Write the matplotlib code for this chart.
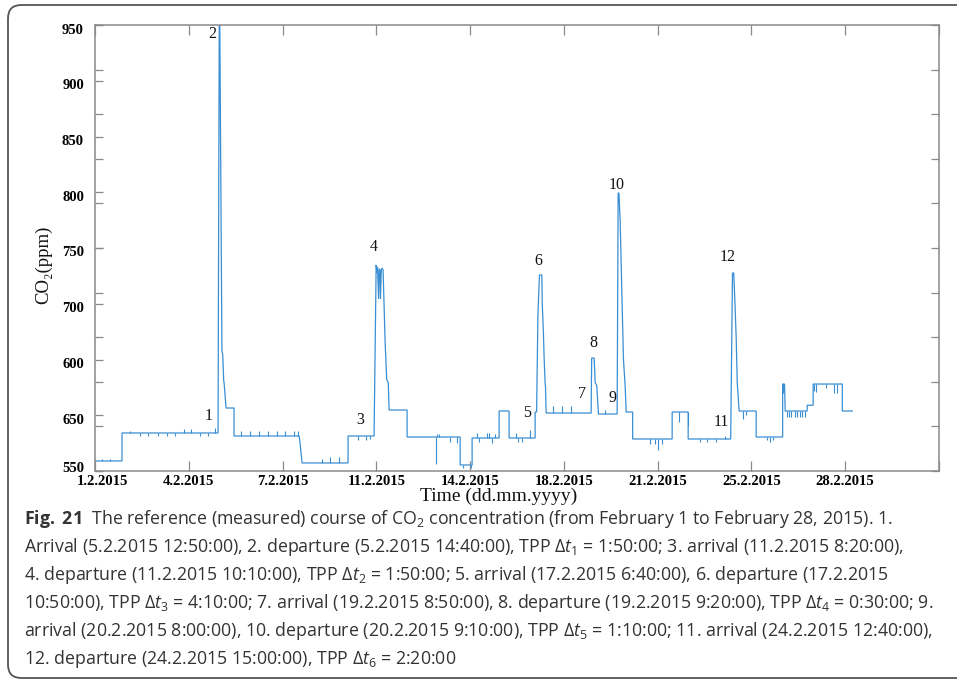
import numpy as np
import matplotlib
matplotlib.use("Agg")
import matplotlib.pyplot as plt
from matplotlib.patches import FancyBboxPatch
from matplotlib.transforms import ScaledTranslation

# ---------------- data (time in days since 1.2.2015 00:00, CO2 in ppm on the plotted scale) -------------
t_days = [0.0, 1.0, 1.0, 4.556, 4.60, 4.62, 4.70, 4.73, 4.765, 4.78, 4.852, 5.148, 5.148,
          7.556, 7.58, 7.667, 9.37, 9.37, 10.333, 10.41, 10.44, 10.46, 10.50, 10.52, 10.55,
          10.57, 10.60, 10.63, 10.667, 10.74, 10.80, 10.86, 10.89, 11.556, 11.556, 13.52,
          13.52, 13.963, 13.963, 14.963, 14.963, 15.333, 15.333, 16.296, 16.296, 16.35,
          16.40, 16.456, 16.544, 16.56, 16.60, 16.63, 16.667, 16.68, 16.704, 18.37, 18.39,
          18.48, 18.50, 18.52, 18.55, 18.58, 18.64, 19.333, 19.37, 19.40, 19.444, 19.507,
          19.567, 19.63, 19.667, 19.907, 19.907, 21.37, 21.37, 21.963, 21.963, 23.537,
          23.604, 23.65, 23.70, 23.74, 23.78, 23.815, 23.85, 24.48, 24.48, 25.46, 25.46,
          25.53, 25.556, 26.37, 26.37, 26.59, 26.59, 27.67, 27.67, 28.04]
co2_ppm = [559.0, 559.0, 584.1, 584.1, 955.0, 955.0, 658.0, 654.0, 631.0, 629.0, 606.5, 606.5, 581.4,
           581.4, 578.0, 557.2, 557.2, 581.4, 581.4, 734.8, 728.0, 733.0, 704.3, 731.0, 731.0,
           704.3, 730.0, 732.0, 730.0, 667.0, 632.0, 629.0, 604.7, 604.7, 580.5, 580.5,
           555.4, 555.4, 579.6, 579.6, 603.8, 603.8, 579.6, 579.6, 602.9, 602.9,
           690.0, 725.8, 725.8, 700.0, 676.0, 651.0, 628.0, 626.0, 602.0, 602.0, 651.3,
           651.3, 641.0, 629.0, 628.0, 626.0, 601.1, 601.1, 799.3, 799.3, 775.1, 710.0,
           650.0, 626.0, 602.9, 602.9, 578.7, 578.7, 602.9, 602.9, 578.7, 578.7,
           727.6, 727.6, 697.0, 670.0, 629.0, 617.0, 603.8, 603.8, 580.5, 580.5, 628.0,
           628.0, 603.8, 603.8, 609.0, 609.0, 628.0, 628.0, 603.8, 603.8]

# short transient spikes on the plateaus (time, plateau level, spike value)
spike_days = [0.26, 0.55, 1.30, 1.65, 1.98, 2.32, 2.65, 2.98, 3.30, 3.55, 3.88, 4.20, 4.44,
              5.41, 5.74, 6.07, 6.41, 6.73, 7.04, 7.37, 7.53, 8.41, 8.70, 9.04,
              9.75, 10.05, 10.20, 12.63, 12.68, 12.74, 13.14, 13.42, 13.62, 13.92,
              14.14, 14.23, 14.51, 14.57, 14.69, 14.81, 15.58, 15.68, 15.80, 16.11,
              16.96, 17.30, 17.63, 18.89, 20.556, 20.74, 20.86, 20.99, 21.63, 21.95,
              22.41, 22.67, 23.00, 23.33, 24.01, 24.10, 24.90, 25.00, 25.10, 25.49,
              25.62, 25.70, 25.78, 25.90, 26.00, 26.10, 26.18, 26.28,
              26.63, 26.70, 27.05, 27.38, 27.46]
spike_base = [559.0, 559.0] + [584.1] * 11 + [581.4] * 8 + [557.2] * 3 + [581.4] * 3 + \
             [580.5] * 5 + [555.4] * 2 + [579.6] * 6 + [579.6] * 4 + [602.0] * 3 + [601.1] + \
             [578.7] * 4 + [602.9] * 2 + [578.7] * 4 + [603.8] * 2 + [580.5] * 3 + [628.0] + \
             [603.8] * 8 + [628.0] * 5
spike_peak = [561, 561, 585.5, 581, 581, 581, 581, 581, 588, 588, 581, 581, 589,
              585.5, 585.5, 585.5, 585.5, 585.5, 585.5, 585.5, 585.5, 561, 563, 563,
              578, 578, 579, 556, 583.5, 583.5, 576, 575, 553, 553,
              584, 576, 584, 584, 575, 583, 584, 576, 576, 587,
              608, 608, 608, 605, 574, 574, 569, 574, 594, 590,
              576, 576, 576, 581, 597, 600, 578, 576, 578, 620,
              598.5, 598.5, 598.5, 598.5, 598.5, 598.5, 598.5, 598.5,
              622, 621, 624, 620, 620]

event_labels = ["1", "2", "3", "4", "5", "6", "7", "8", "9", "10", "11", "12"]
event_x = [4.22, 4.33, 9.81, 10.33, 16.0, 16.41, 18.02, 18.44, 19.15, 19.33, 23.19, 23.44]
event_y = [599.3, 942.0, 595.7, 750.9, 602.0, 738.3, 619.0, 664.8, 615.5, 806.5, 594.0, 742.0]

xtick_labels = ["1.2.2015", "4.2.2015", "7.2.2015", "11.2.2015", "14.2.2015",
                "18.2.2015", "21.2.2015", "25.2.2015", "28.2.2015", ""]
ytick_values = [550, 600, 650, 700, 750, 800, 850, 900, 950]
ytick_labels = ["550", "650", "600", "700", "750", "800", "850", "900", "950"]

caption_lines = [
    r"$\mathbf{Fig.}$ $\mathbf{21}$  The reference (measured) course of CO$_2$ concentration (from February 1 to February 28, 2015). 1.",
    r"Arrival (5.2.2015 12:50:00), 2. departure (5.2.2015 14:40:00), TPP $\Delta t_1$ = 1:50:00; 3. arrival (11.2.2015 8:20:00),",
    r"4. departure (11.2.2015 10:10:00), TPP $\Delta t_2$ = 1:50:00; 5. arrival (17.2.2015 6:40:00), 6. departure (17.2.2015",
    r"10:50:00), TPP $\Delta t_3$ = 4:10:00; 7. arrival (19.2.2015 8:50:00), 8. departure (19.2.2015 9:20:00), TPP $\Delta t_4$ = 0:30:00; 9.",
    r"arrival (20.2.2015 8:00:00), 10. departure (20.2.2015 9:10:00), TPP $\Delta t_5$ = 1:10:00; 11. arrival (24.2.2015 12:40:00),",
    r"12. departure (24.2.2015 15:00:00), TPP $\Delta t_6$ = 2:20:00",
]

# ---------------- styling ----------------
plt.rcParams["mathtext.fontset"] = "custom"
plt.rcParams["mathtext.rm"] = "Open Sans"
plt.rcParams["mathtext.it"] = "Open Sans:italic"
plt.rcParams["mathtext.bf"] = "Open Sans:bold"

W, H = 957, 680
fig = plt.figure(figsize=(W / 100, H / 100), dpi=100)
fig.patch.set_facecolor("white")

L, R, T, B = 95, 939, 25, 471
ax = fig.add_axes([L / W, 1 - B / H, (R - L) / W, (B - T) / H])

line_color = "#3a8fd4"
ax.plot(t_days, co2_ppm, color=line_color, lw=0.9, solid_joinstyle="miter", clip_on=True)
ax.vlines(spike_days, spike_base, spike_peak, color=line_color, lw=0.8)

tick_step = 500 * 10 / (60 * 24)  # 500 ten-minute samples
ax.set_xlim(0, 9 * tick_step)
ax.set_ylim(550, 950)

spine_c = "#8a8a8a"
for s in ax.spines.values():
    s.set_color(spine_c)
    s.set_linewidth(1.1)

ax.set_xticks([i * tick_step for i in range(10)])
ax.set_xticklabels(xtick_labels)
ax.set_yticks(ytick_values)
ax.set_yticklabels(ytick_labels)
ax.set_yticks(np.linspace(550, 950, 11), minor=True)
ax.yaxis.remove_overlapping_locs = False

ax.tick_params(axis="x", which="major", direction="in", top=True, bottom=True, length=7,
               width=0.9, color=spine_c, pad=3, labelsize=10.5)
ax.tick_params(axis="y", which="major", direction="in", left=True, right=False, length=6,
               width=0.9, color=spine_c, pad=8, labelsize=10.5)
ax.tick_params(axis="y", which="minor", direction="in", left=True, right=True, length=6,
               width=0.9, color=spine_c)
ax.tick_params(axis="x", which="minor", bottom=False, top=False)
for lab in ax.get_xticklabels() + ax.get_yticklabels():
    lab.set_fontfamily("Liberation Serif")
    lab.set_fontweight("bold")

# small per-label offsets as in the reference
ylabs = ax.get_yticklabels()
for i, lab in enumerate(ylabs):
    dy = 4 / 100 if i == 0 else -3.5 / 100
    lab.set_transform(lab.get_transform() + ScaledTranslation(0, dy, fig.dpi_scale_trans))
xl0 = ax.get_xticklabels()[0]
xl0.set_transform(xl0.get_transform() + ScaledTranslation(7 / 100, 0, fig.dpi_scale_trans))

for lab, x, y in zip(event_labels, event_x, event_y):
    ax.text(x, y, lab, ha="center", va="center", fontsize=11.5,
            family="Liberation Serif", color="#111111")

fig.text(44 / W, 1 - 265 / H, "CO₂(ppm)", rotation=90, ha="center", va="center",
         fontsize=13.5, family=["Liberation Serif", "DejaVu Serif"], color="#111111")
fig.text(499 / W, 1 - 496 / H, "Time (dd.mm.yyyy)", ha="center", va="center",
         fontsize=14, family="Liberation Serif", color="#111111")

# caption
baselines = [524, 552, 580, 608, 636, 664]
for txt, yb in zip(caption_lines, baselines):
    fig.text(24 / W, 1 - yb / H, txt, ha="left", va="baseline", fontsize=12.8,
             family="Open Sans", color="#333333")

# rounded frame (open to the right, as cropped)
frame = FancyBboxPatch((8 / W, 1 - 678 / H), 1.2, (678 - 5) / H,
                       boxstyle="round,pad=0,rounding_size=0.014",
                       transform=fig.transFigure, fill=False, edgecolor="#555555",
                       linewidth=1.3, clip_on=False, mutation_aspect=W / H)
fig.patches.append(frame)

fig.savefig("out.png", dpi=100)
